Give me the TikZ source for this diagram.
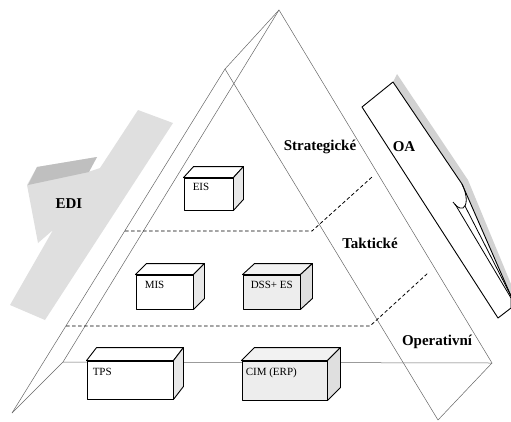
\documentclass[tikz,border=0pt]{standalone}
\usepackage{fontspec}
\setmainfont{Liberation Serif}
\usetikzlibrary{calc}
\tikzset{
  edge/.style={draw=black!60, line width=0.5pt},
  level/.style={draw=black, line width=0.8pt, dash pattern=on 3.5pt off 2.5pt},
  boxline/.style={draw=black, line width=0.9pt, line join=round},
  front/.style={boxline, rectangle, inner sep=0pt, fill=white},
  grayfront/.style={front, fill=gray!14},
  boxlabel/.style={font=\fontsize{11}{13}\selectfont, inner sep=0pt, anchor=north west},
  biglabel/.style={font=\fontsize{15}{18}\selectfont\bfseries, inner sep=0pt},
}
\newcommand{\boxsides}[5]{%
  \filldraw[boxline, fill=#5] (#1.north west) -- ++(#2,#3) -- ($(#1.north east)+(#2,#3)$) -- (#1.north east) -- cycle;
  \filldraw[boxline, fill=#4] (#1.north east) -- ++(#2,#3) -- ($(#1.south east)+(#2,#3)$) -- (#1.south east) -- cycle;}
\begin{document}
\begin{tikzpicture}[x=1pt,y=-1pt]
\useasboundingbox (0,0) rectangle (511,421);
% EDI arrow
\fill[gray!25] (138,110) -- (100,168) -- (88,172) -- (97,157) -- (37,167) -- (27,185)
  -- (38,243) -- (53,230) -- (10,305) -- (45,320) -- (173,123) -- cycle;
\fill[gray!50] (37,167) -- (97,157) -- (89,172) -- (28,185) -- cycle;
\node[biglabel] (edi) at (69,204) {EDI};
% OA
\fill[gray!35] (393,82) -- (397,74) -- (468,180) -- (511,284) -- (511,297) -- (462,184) -- cycle;
\filldraw[draw=black, line width=0.9pt, fill=white, line join=round]
  (362,107) -- (393,82) -- (462,184) -- (511,296) -- (511,308) -- (498,318) -- cycle;
\draw[line width=0.8pt] (462,184) .. controls (468,196) and (467,206) .. (463,208)
  .. controls (459,209) and (456,206) .. (453,202);
\draw[line width=0.8pt] (455,204) -- (511,298);
\draw[line width=0.8pt] (465,206) -- (511,296);
\node[biglabel] (oa) at (404,147) {OA};
% pyramid
\coordinate (A) at (279,10);
\coordinate (P) at (225,69);
\coordinate (L) at (63,362);
\coordinate (Lf) at (12,413);
\coordinate (R) at (492,363);
\coordinate (Rf) at (438,420);
\draw[edge] (Lf) -- (P) -- (A) -- (R) -- (Rf);
\draw[edge] (A) -- (L) -- (Lf);
\draw[edge] (P) -- (Rf);
\draw[edge] (L) -- (R);
% level lines
\coordinate (d1a) at (125,231);
\coordinate (d1b) at (312,231);
\coordinate (d1c) at (372,177);
\coordinate (d2a) at (66,326);
\coordinate (d2b) at (370,326);
\coordinate (d2c) at (428,273);
\draw[level] (d1a) -- (d1b) -- (d1c);
\draw[level] (d2a) -- (d2b) -- (d2c);
% boxes
\node[front, minimum width=49pt, minimum height=32pt] (eis) at (208.5,194) {};
\boxsides{eis}{10}{-11}{gray!18}{white}
\node[boxlabel] (eisl) at ($(eis.north west)+(9,5)$) {EIS};
\node[front, minimum width=57pt, minimum height=34pt] (mis) at (164.5,292) {};
\boxsides{mis}{11}{-11}{gray!18}{white}
\node[boxlabel] (misl) at ($(mis.north west)+(9,6)$) {MIS};
\node[grayfront, minimum width=57pt, minimum height=34pt] (dss) at (271.5,292) {};
\boxsides{dss}{12}{-11}{gray!25}{gray!10}
\node[boxlabel] (dssl) at ($(dss.north west)+(8,6)$) {DSS+ ES};
\node[front, minimum width=86pt, minimum height=38pt] (tps) at (130,380) {};
\boxsides{tps}{10}{-13}{gray!18}{white}
\node[boxlabel] (tpsl) at ($(tps.north west)+(6,7)$) {TPS};
\node[grayfront, minimum width=85pt, minimum height=39pt] (cim) at (284.5,380.5) {};
\boxsides{cim}{13}{-13}{gray!25}{gray!10}
\node[boxlabel] (ciml) at ($(cim.north west)+(4,7)$) {CIM (ERP)};
% level labels
\node[biglabel] (strat) at (320,147) {Strategické};
\node[biglabel] (takt) at (370,243) {Taktické};
\node[biglabel] (oper) at (437,342) {Operativní};
\end{tikzpicture}
\end{document}
